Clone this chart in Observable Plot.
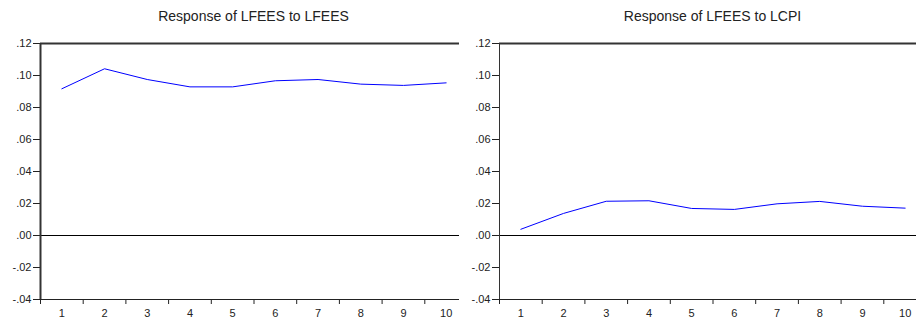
<!DOCTYPE html>
<html>
<head>
<meta charset="utf-8">
<script src="https://cdn.jsdelivr.net/npm/d3@7"></script>
<script src="https://cdn.jsdelivr.net/npm/@observablehq/plot@0.6"></script>
<style>
  html, body { margin: 0; padding: 0; background: white; overflow: hidden; }
  #wrap { position: relative; width: 916px; height: 320px; overflow: hidden; background: white; }
  .title { position: absolute; top: 8px; font: 14px "Liberation Sans", Arial, sans-serif; color: #222; text-align: center; line-height: 16px; white-space: nowrap; }
  .panel { position: absolute; top: 30px; }
</style>
</head>
<body>
<div id="wrap"></div>
<script>
// ---- data ----
const periods = [1, 2, 3, 4, 5, 6, 7, 8, 9, 10];
const xTickLabels = ["1", "2", "3", "4", "5", "6", "7", "8", "9", "10"];
const lfeesToLfees = [0.0917, 0.1042, 0.0975, 0.0929, 0.0929, 0.0967, 0.0975, 0.0946, 0.0938, 0.0954];
const lfeesToLcpi  = [0.0039, 0.0138, 0.0214, 0.0217, 0.0169, 0.0163, 0.0198, 0.0213, 0.0183, 0.0171];
const yTicks = [-0.04, -0.02, 0.00, 0.02, 0.04, 0.06, 0.08, 0.10, 0.12];
const panelTitles = ["Response of LFEES to LFEES", "Response of LFEES to LCPI"];

// ---- helpers ----
const yFmt = d => (d < 0 ? "-" : "") + Math.abs(d).toFixed(2).replace(/^0/, "");
const xEdges = periods.map(p => p - 0.5).concat([periods[periods.length - 1] + 0.5]);
const yMin = yTicks[0], yMax = yTicks[yTicks.length - 1];

function panel(values, width, marginRight, sides) {
  const data = periods.map((p, i) => ({period: p, value: values[i]}));
  const marks = [
    Plot.axisY(yTicks, {tickSize: 7, tickPadding: 2, tickFormat: yFmt, label: null, stroke: "#222"}),
    Plot.axisX(xEdges, {tickSize: 5, tickFormat: () => "", label: null, stroke: "#222"}),
    Plot.axisX(periods, {tickSize: 0, tickPadding: 10, tickFormat: d => xTickLabels[periods.indexOf(d)], label: null}),
    Plot.ruleY([0], {stroke: "#000", strokeWidth: 1}),
    Plot.line(data, {x: "period", y: "value", stroke: "#0000ff", strokeWidth: 1}),
    Plot.ruleY([yMax], {stroke: "#333", strokeWidth: sides.top}),
    Plot.ruleY([yMin], {stroke: "#222", strokeWidth: sides.bottom}),
    Plot.ruleX([xEdges[0]], {stroke: "#333", strokeWidth: sides.left})
  ];
  if (sides.right > 0) marks.push(Plot.ruleX([xEdges[xEdges.length - 1]], {stroke: "#333", strokeWidth: sides.right}));
  return Plot.plot({
    width, height: 290,
    marginTop: 13, marginBottom: 21, marginLeft: 40, marginRight,
    style: {fontFamily: "'Liberation Sans', Arial, sans-serif", fontSize: "11px", color: "#222", background: "white", overflow: "visible", maxWidth: "none"},
    x: {domain: [xEdges[0], xEdges[xEdges.length - 1]]},
    y: {domain: [yMin, yMax]},
    marks
  });
}

const wrap = document.getElementById("wrap");
const layouts = [
  {left: 0, width: 470, marginRight: 3, values: lfeesToLfees, sides: {top: 2, bottom: 1, left: 2, right: 2}},
  {left: 459, width: 560, marginRight: 93, values: lfeesToLcpi, sides: {top: 2, bottom: 1, left: 1, right: 0}}
];
layouts.forEach((l, i) => {
  const svg = panel(l.values, l.width, l.marginRight, l.sides);
  svg.classList.add("panel");
  svg.style.left = l.left + "px";
  svg.style.width = l.width + "px";
  wrap.appendChild(svg);
  const t = document.createElement("div");
  t.className = "title";
  t.textContent = panelTitles[i];
  const frameLeft = l.left + 40;
  const frameWidth = l.width - 40 - l.marginRight;
  t.style.left = frameLeft + "px";
  t.style.width = frameWidth + "px";
  wrap.appendChild(t);
});
</script>
</body>
</html>
